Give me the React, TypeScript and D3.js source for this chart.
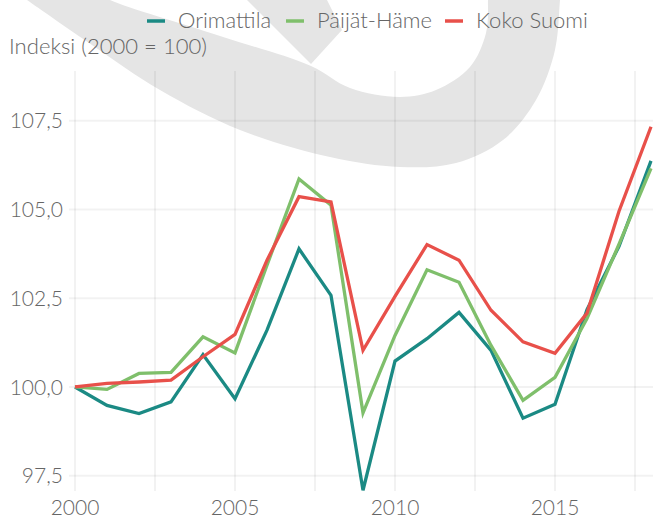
import React from "react";
import * as d3 from "d3";

const years = [2000, 2001, 2002, 2003, 2004, 2005, 2006, 2007, 2008, 2009, 2010, 2011, 2012, 2013, 2014, 2015, 2016, 2017, 2018];
const orimattila = [100, 99.48, 99.25, 99.58, 100.91, 99.67, 101.6, 103.89, 102.58, 97.09, 100.73, 101.36, 102.1, 101.03, 99.12, 99.51, 102.18, 103.96, 106.37];
const paijatHame = [100, 99.93, 100.38, 100.41, 101.41, 100.96, 103.43, 105.86, 105.12, 99.27, 101.45, 103.3, 102.95, 101.17, 99.62, 100.27, 101.93, 104.02, 106.16];
const kokoSuomi = [100, 100.1, 100.14, 100.19, 100.85, 101.48, 103.57, 105.36, 105.21, 101.03, 102.55, 104.01, 103.57, 102.16, 101.27, 100.95, 102.08, 104.95, 107.33];

const seriesNames = ["Orimattila", "Päijät-Häme", "Koko Suomi"];
const seriesColors = ["#1b8a84", "#7fbf6b", "#e8504a"];
const yTicks = [97.5, 100, 102.5, 105, 107.5];
const xGrid = [2000, 2002.5, 2005, 2007.5, 2010, 2012.5, 2015, 2017.5];
const xLabels = [2000, 2005, 2010, 2015];

// watermark outline (decorative)
const wmOuter: [number, number][] = [[20, -5], [27, 0], [92, 45], [160, 90], [240, 130], [330, 157], [400, 167], [456, 163], [503, 140], [536, 100], [555, 50], [560, 0], [561, -10]];
const wmInner: [number, number][] = [[488, -10], [488, 0], [486, 33], [470, 67], [436, 90], [400, 97], [350, 88], [311, 66], [220, 36], [110, 0], [100, -6]];
const wmV: [number, number][] = [[247, 0], [327, 0], [342, 30], [311, 64]];

const FONT = "Lato, 'Open Sans', sans-serif";
const TXT = "#666666";

export default function App() {
  const W = 653, H = 519;
  const x = d3.scaleLinear().domain([2000, 2018]).range([75, 651]);
  const y = d3.scaleLinear().domain([97.5, 107.5]).range([475.7, 120.7]);
  const seriesData = [orimattila, paijatHame, kokoSuomi];
  const line = d3.line<number>().x((_, i) => x(years[i])).y((d) => y(d));

  const curve = d3.line().curve(d3.curveCatmullRom);
  const outerP = curve(wmOuter) as string;
  const innerP = (curve(wmInner) as string).replace(/^M/, "L");
  const wmPath = outerP + innerP + "Z";
  const vPath = d3.line().curve(d3.curveLinearClosed)(wmV) as string;

  const legendSwatchX = [147, 286, 445];
  const legendTextX = [178, 317, 476];

  return (
    <svg width={W} height={H} style={{ position: "absolute", left: 0, top: 0, background: "#fff" }} fontFamily={FONT}>
      <rect x={0} y={0} width={W} height={H} fill="#fff" />
      <g fill="#e5e5e5">
        <path d={wmPath} />
        <path d={vPath} />
      </g>
      <g stroke="rgba(0,0,0,0.05)" strokeWidth={2}>
        {yTicks.map((t) => (
          <line key={"h" + t} x1={69} x2={W} y1={y(t)} y2={y(t)} />
        ))}
        {xGrid.map((t) => (
          <line key={"v" + t} x1={x(t)} x2={x(t)} y1={71} y2={491} />
        ))}
      </g>
      <g fill={TXT} fontWeight={300}>
        {yTicks.map((t) => (
          <text key={"yl" + t} x={63} y={y(t)} dy="0.36em" textAnchor="end" fontSize={21}>
            {d3.format(".1f")(t).replace(".", ",")}
          </text>
        ))}
        {xLabels.map((t) => (
          <text key={"xl" + t} x={x(t)} y={515} textAnchor="middle" fontSize={21}>
            {t}
          </text>
        ))}
        <text x={9} y={54} fontSize={22} textLength={198} lengthAdjust="spacingAndGlyphs">Indeksi (2000 = 100)</text>
        {seriesNames.map((n, i) => (
          <g key={n}>
            <line x1={legendSwatchX[i]} x2={legendSwatchX[i] + 18} y1={21} y2={21} stroke={seriesColors[i]} strokeWidth={3.5} />
            <text x={legendTextX[i]} y={28} fontSize={22}>{n}</text>
          </g>
        ))}
      </g>
      <g fill="none" strokeWidth={3.3} strokeLinejoin="miter" strokeMiterlimit={4}>
        {seriesData.map((s, i) => (
          <path key={i} d={line(s) as string} stroke={seriesColors[i]} />
        ))}
      </g>
    </svg>
  );
}
